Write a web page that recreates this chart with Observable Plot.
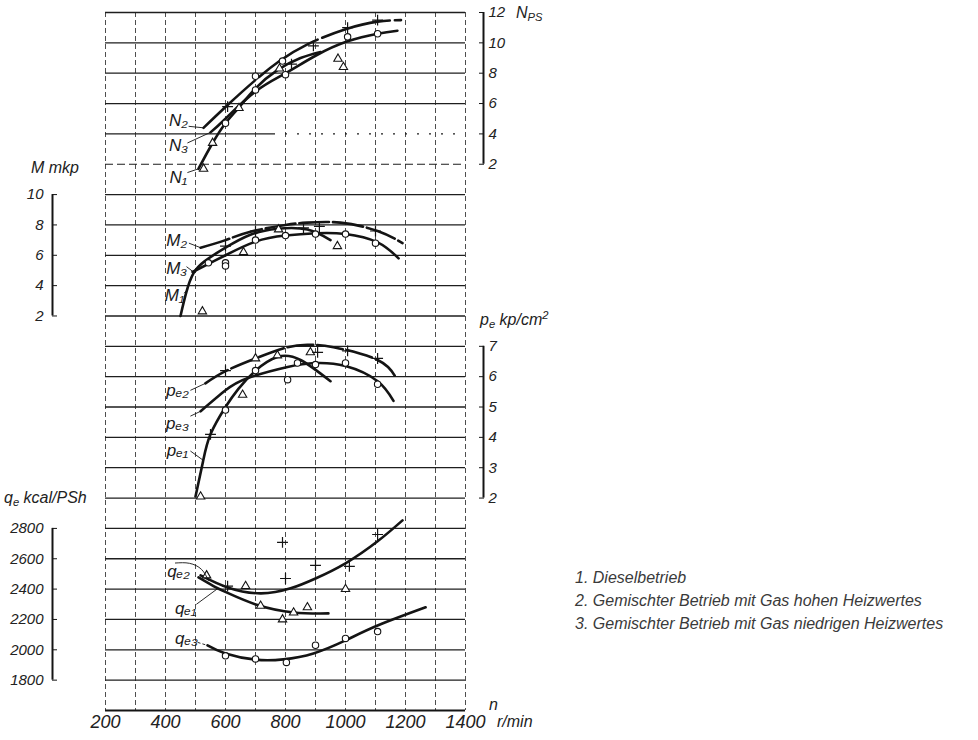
<!DOCTYPE html>
<html><head><meta charset="utf-8">
<script src="https://cdn.jsdelivr.net/npm/d3@7"></script>
<script src="https://cdn.jsdelivr.net/npm/@observablehq/plot@0.6"></script>
<style>
html,body{margin:0;padding:0;background:#fff;}
#chart{position:relative;width:978px;height:740px;overflow:hidden;background:#fff;
  font-family:"Liberation Sans Narrow","Liberation Sans",Arial,"DejaVu Sans",sans-serif;font-style:italic;color:#222;}
#chart svg{position:absolute;left:0;top:0;background:transparent !important;overflow:visible;}
#chart svg text{font-style:italic !important;}
.lbl{position:absolute;white-space:nowrap;line-height:1;font-size:16px;}
.lbl sub{font-size:0.7em;vertical-align:-0.3em;line-height:0;}
.lbl sup{font-size:0.7em;vertical-align:0.55em;line-height:0;}
.leg{position:absolute;white-space:nowrap;line-height:1;font-size:16px;color:#3a3a3a;}
</style></head><body><div id="chart"></div>
<script>
// ---------- data ----------
const xTicks = [200,400,600,800,1000,1200,1400];
const xGrid = [200,300,400,500,600,700,800,900,1000,1100,1200,1300,1400];
const nTicks = [2,4,6,8,10,12];
const mTicks = [2,4,6,8,10];
const peTicks = [2,3,4,5,6,7];
const qeTicks = [1800,2000,2200,2400,2600,2800];
const qeFrameBottom = [1600];

// N (PS) curves [r/min, value]
const N1 = [[510,1.7],[557,3.4],[600,4.7],[643,5.7],[700,7.0],[773,8.2],[850,9.0],[917,9.4]];
const N2 = [[527,4.4],[607,5.9],[700,7.55],[780,8.8],[873,9.9],[1000,10.9],[1107,11.4],[1185,11.5]];
const N3 = [[550,4.1],[600,5.0],[700,6.8],[800,8.0],[900,9.15],[1007,10.1],[1107,10.6],[1173,10.8]];
const N1pts = [[527,1.7],[557,3.4],[645,5.7],[780,8.3],[975,8.95],[993,8.4]];
const N2pts = [[607,5.8],[820,8.6],[893,9.8],[1007,11.0],[1107,11.5]];
const N3pts = [[600,4.7],[700,6.9],[700,7.8],[790,8.8],[800,7.9],[1007,10.4],[1107,10.6]];

// M (mkp)
const M1 = [[450,2.0],[470,3.6],[493,4.8],[530,5.6],[600,6.5],[683,7.35],[773,7.75],[873,7.7],[950,7.0]];
const M2 = [[517,6.5],[600,7.0],[683,7.55],[800,8.0],[873,8.15],[983,8.15],[1107,7.6],[1190,6.8]];
const M3 = [[490,4.9],[550,5.5],[600,6.0],[700,6.9],[800,7.3],[900,7.45],[1000,7.4],[1107,6.85],[1177,5.8]];
const M1pts = [[523,2.3],[660,6.2],[777,7.7],[973,6.6]];
const M2pts = [[600,6.6],[700,7.6],[860,7.8],[913,7.9],[1100,7.6]];
const M3pts = [[543,5.5],[600,5.5],[600,5.3],[700,7.0],[800,7.3],[900,7.4],[1000,7.4],[1100,6.8]];

// pe (kp/cm2)
const pe1 = [[500,2.05],[525,3.2],[550,4.1],[600,5.0],[643,5.6],[700,6.2],[773,6.65],[850,6.55],[950,5.85]];
const pe2 = [[533,5.78],[600,6.18],[700,6.6],[807,6.97],[873,7.05],[960,6.97],[1107,6.55],[1167,5.98]];
const pe3 = [[517,4.86],[600,5.55],[673,5.95],[807,6.32],[900,6.45],[1000,6.35],[1107,5.85],[1160,5.2]];
const pe1pts = [[517,2.05],[657,5.4],[700,6.6],[773,6.7],[883,6.8]];
const pe2pts = [[550,4.1],[600,6.2],[907,6.8],[1007,6.85],[1107,6.6]];
const pe3pts = [[600,4.9],[700,6.2],[807,5.9],[840,6.45],[900,6.4],[1000,6.45],[1107,5.75]];

// qe (kcal/PSh)
const qe1 = [[510,2477],[560,2420],[607,2375],[707,2295],[827,2246],[943,2240]];
const qe2 = [[517,2490],[607,2411],[717,2372],[817,2405],[900,2470],[1000,2570],[1107,2715],[1190,2853]];
const qe3 = [[540,2029],[600,1976],[700,1935],[793,1937],[893,1976],[1000,2062],[1107,2160],[1267,2280]];
const qe1pts = [[537,2490],[667,2420],[717,2290],[790,2200],[827,2245],[873,2280],[1000,2400]];
const qe2pts = [[607,2420],[790,2708],[800,2470],[900,2556],[1013,2550],[1107,2760]];
const qe3pts = [[600,1960],[700,1940],[803,1917],[900,2030],[1000,2075],[1107,2120]];

// curve labels and leader lines
const nLabels = [[443,4.85,"N₂"],[443,3.2,"N₃"],[443,1.1,"N₁"]];
const nLeaders = [[477,4.5,527,4.4],[473,3.4,550,4.1],[473,1.45,510,1.7]];
const mLabels = [[437,6.95,"M₂"],[437,5.1,"M₃"],[430,3.35,"M₁"]];
const mLeaders = [[478,6.8,517,6.5],[470,5.25,490,4.95],[462,3.5,474,3.75]];
const peLabels = [[440,5.55,"pₑ₂"],[440,4.45,"pₑ₃"],[440,3.55,"pₑ₁"]];
const peLeaders = [[483,5.55,533,5.78],[483,4.7,517,4.86],[483,3.55,525,3.25]];
const qeLabels = [[443,2517,"qₑ₂"],[467,2273,"qₑ₁"],[470,2075,"qₑ₃"]];
const qe2Arc = [[433,2572],[480,2570],[520,2530],[543,2457]];
const qeLeaders = [[503,2300,575,2405]];
const qe3Leader = [[507,2049,540,2029]];

const legendItems = ["1. Dieselbetrieb","2. Gemischter Betrieb mit Gas hohen Heizwertes","3. Gemischter Betrieb mit Gas niedrigen Heizwertes"];

// ---------- drawing ----------
const FONT = '"Liberation Sans Narrow","Liberation Sans",Arial,"DejaVu Sans",sans-serif';
const common = {
  width: 978, height: 740,
  marginLeft: 105, marginRight: 513, marginTop: 12, marginBottom: 30,
  style: `background:transparent;overflow:visible;font-family:${FONT};font-style:italic;font-size:15px;color:#222;`
};
const X = d => d[0], Y = d => d[1];
const INK = "#141414";
const grid = {stroke: "#1e1e1e", strokeWidth: 1.3};
const curve = (data, extra={}) => Plot.line(data, {x: X, y: Y, curve: "natural", stroke: INK, strokeWidth: 2.6, strokeLinecap: "round", ...extra});
const circles = data => Plot.dot(data, {x: X, y: Y, r: 3.2, symbol: "circle", fill: "white", stroke: INK, strokeWidth: 1.1});
const tris = data => Plot.dot(data, {x: X, y: Y, r: 3.1, symbol: "triangle", fill: "white", stroke: INK, strokeWidth: 1.1});
const pluses = data => Plot.dot(data, {x: X, y: Y, r: 3.6, symbol: "plus", fill: "none", stroke: INK, strokeWidth: 1.2});
const labels = data => Plot.text(data, {x: X, y: Y, text: d => d[2], fontSize: 17, fill: "#1a1a1a", fontStyle: "italic"});
const leaders = (data, extra={}) => Plot.link(data, {x1: d=>d[0], y1: d=>d[1], x2: d=>d[2], y2: d=>d[3], stroke: INK, strokeWidth: 0.9, ...extra});
const axisR = ticks => Plot.axisY({anchor: "right", ticks, tickSize: 5, dx: 13, tickPadding: 5, fontSize: 15, fontStyle: "italic", tickFormat: d => String(d), label: null, stroke: INK});
const axisL = ticks => Plot.axisY({anchor: "left", ticks, tickSize: 5, dx: -48, tickPadding: 9, fontSize: 15, fontStyle: "italic", tickFormat: d => String(d), label: null, stroke: INK});
const lineR = (lo, hi) => Plot.ruleX([1400], {y1: lo, y2: hi, dx: 18, stroke: INK, strokeWidth: 2});
const lineL = (lo, hi) => Plot.ruleX([200], {y1: lo, y2: hi, dx: -53, stroke: INK, strokeWidth: 2});

const chart = document.getElementById("chart");

// base: vertical grid and r/min axis
chart.append(Plot.plot({...common, x: {domain: [200,1400]}, y: {domain: [0,1], axis: null}, marks: [
  Plot.ruleX(xGrid, {stroke: "#3a3a3a", strokeWidth: 0.9, strokeDasharray: "5,3"}),
  Plot.axisX({ticks: xTicks, tickSize: 0, tickPadding: 5, fontSize: 18, fontStyle: "italic", tickFormat: d => String(d), label: null})
]}));

// N panel
const nPartialEnd = 760;
chart.append(Plot.plot({...common, x: {domain: [200,1400], axis: null}, y: {domain: [-34,12]}, marks: [
  Plot.ruleY(nTicks.filter(v => v >= 6), grid),
  Plot.ruleY([4], {...grid, x1: 200, x2: nPartialEnd}),
  Plot.ruleY([4], {...grid, x1: nPartialEnd, x2: 1400, strokeDasharray: "2,10"}),
  Plot.ruleY([2], {...grid, strokeWidth: 1.1, strokeDasharray: "8,4"}),
  lineR(2, 12), axisR(nTicks),
  curve(N1), curve(N2, {strokeDasharray: "70,5"}), curve(N3),
  tris(N1pts), pluses(N2pts), circles(N3pts),
  leaders(nLeaders), labels(nLabels)
]}));

// M panel
chart.append(Plot.plot({...common, x: {domain: [200,1400], axis: null}, y: {domain: [-24,22]}, marks: [
  Plot.ruleY(mTicks, grid),
  lineL(2, 10), axisL(mTicks),
  curve(M1), curve(M2, {strokeDasharray: "30,4"}), curve(M3),
  tris(M1pts), pluses(M2pts), circles(M3pts),
  leaders(mLeaders), labels(mLabels)
]}));

// pe panel
chart.append(Plot.plot({...common, x: {domain: [200,1400], axis: null}, y: {domain: [-5,18]}, marks: [
  Plot.ruleY(peTicks, grid),
  lineR(2, 7), axisR(peTicks),
  curve(pe1), curve(pe2, {strokeDasharray: "26,4"}), curve(pe3),
  tris(pe1pts), pluses(pe2pts), circles(pe3pts),
  leaders(peLeaders), labels(peLabels)
]}));

// qe panel
chart.append(Plot.plot({...common, x: {domain: [200,1400], axis: null}, y: {domain: [1600,6200]}, marks: [
  Plot.ruleY(qeTicks, grid),
  Plot.ruleY(qeFrameBottom, {stroke: INK, strokeWidth: 2.2}),
  lineL(1800, 2800), axisL(qeTicks),
  curve(qe1), curve(qe2), curve(qe3),
  tris(qe1pts), pluses(qe2pts), circles(qe3pts),
  Plot.line(qe2Arc, {x: X, y: Y, curve: "natural", stroke: INK, strokeWidth: 0.9}),
  leaders(qeLeaders), leaders(qe3Leader, {strokeDasharray: "3,2"}),
  labels(qeLabels)
]}));

// axis titles (HTML text)
const titles = [
  ['N<sub>PS</sub>', 516, 5],
  ['M mkp', 31, 160],
  ['p<sub>e</sub> kp/cm<sup>2</sup>', 480, 312],
  ['q<sub>e</sub> kcal/PSh', 4, 490],
  ['n', 489, 697],
  ['r/min', 497, 714]
];
for (const [html, left, top] of titles) {
  const d = document.createElement("div");
  d.className = "lbl"; d.innerHTML = html;
  d.style.left = left + "px"; d.style.top = top + "px";
  chart.append(d);
}
legendItems.forEach((t, i) => {
  const d = document.createElement("div");
  d.className = "leg"; d.textContent = t;
  d.style.left = "575px"; d.style.top = (570 + i * 23) + "px";
  chart.append(d);
});
</script></body></html>
